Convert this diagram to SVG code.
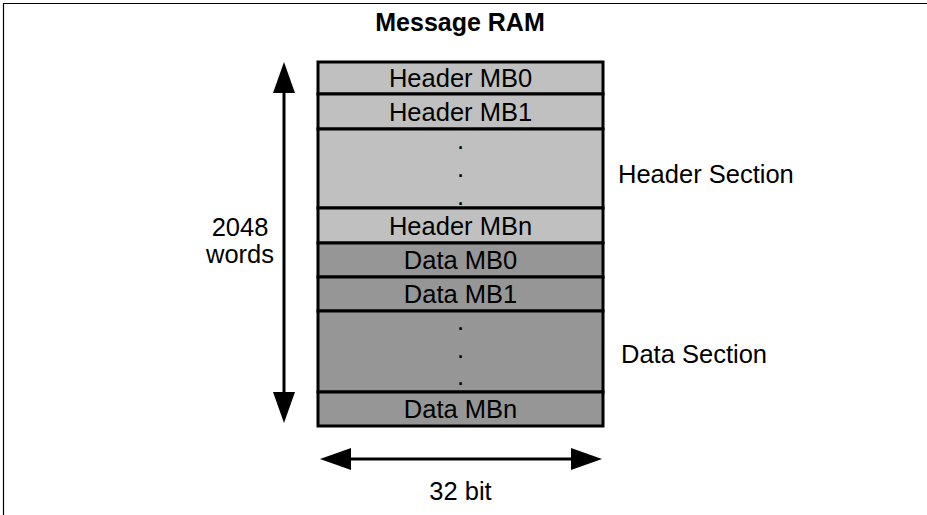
<svg xmlns="http://www.w3.org/2000/svg" width="927" height="515" viewBox="0 0 927 515">
<style>
text { font-family: "Liberation Sans", Arial, sans-serif; font-size: 25.5px; fill: #000; }
.c { text-anchor: middle; }
.title { font-weight: bold; font-size: 25px; }
.hdr { fill: #c0c0c0; stroke: #000; stroke-width: 3; }
.dat { fill: #969696; stroke: #000; stroke-width: 3; }
.conn { stroke: #000; stroke-width: 3; fill: none; }
.frame { stroke: #000; stroke-width: 1.2; fill: none; }
</style>
<defs>
<marker id="ah" markerUnits="userSpaceOnUse" markerWidth="31" markerHeight="22" refX="0" refY="11" orient="auto-start-reverse" viewBox="0 0 31 22">
<path d="M0,0 L31,11 L0,22 Z" fill="#000"/>
</marker>
</defs>
<path class="frame" d="M3.5,515 V3.5 H927"/>
<text class="c title" x="460" y="31">Message RAM</text>
<g id="header-mb0"><rect class="hdr" x="318" y="62" width="285" height="32"/><text class="c" x="460.5" y="87">Header MB0</text></g>
<g id="header-mb1"><rect class="hdr" x="318" y="94" width="285" height="35"/><text class="c" x="460.5" y="120.5">Header MB1</text></g>
<g id="header-dots"><rect class="hdr" x="318" y="129" width="285" height="79"/><text class="c" x="460.5" y="149">.</text><text class="c" x="460.5" y="177">.</text><text class="c" x="460.5" y="205">.</text></g>
<g id="header-mbn"><rect class="hdr" x="318" y="208" width="285" height="35"/><text class="c" x="460.5" y="234.5">Header MBn</text></g>
<g id="data-mb0"><rect class="dat" x="318" y="243" width="285" height="34"/><text class="c" x="460.5" y="269">Data MB0</text></g>
<g id="data-mb1"><rect class="dat" x="318" y="277" width="285" height="34"/><text class="c" x="460.5" y="303">Data MB1</text></g>
<g id="data-dots"><rect class="dat" x="318" y="311" width="285" height="81"/><text class="c" x="460.5" y="330">.</text><text class="c" x="460.5" y="358">.</text><text class="c" x="460.5" y="385">.</text></g>
<g id="data-mbn"><rect class="dat" x="318" y="392" width="285" height="34"/><text class="c" x="460.5" y="418">Data MBn</text></g>
<g id="header-section-label"><text x="618" y="183">Header Section</text></g>
<g id="data-section-label"><text x="621" y="363">Data Section</text></g>
<g id="words-label"><text class="c" x="240" y="236">2048</text><text class="c" x="240" y="263">words</text></g>
<g id="bit-label"><text class="c" x="460.5" y="500">32 bit</text></g>
<g id="connectors">
<line class="conn" x1="284" y1="93" x2="284" y2="392" marker-start="url(#ah)" marker-end="url(#ah)"/>
<line class="conn" x1="351" y1="459" x2="571" y2="459" marker-start="url(#ah)" marker-end="url(#ah)"/>
</g>
</svg>
